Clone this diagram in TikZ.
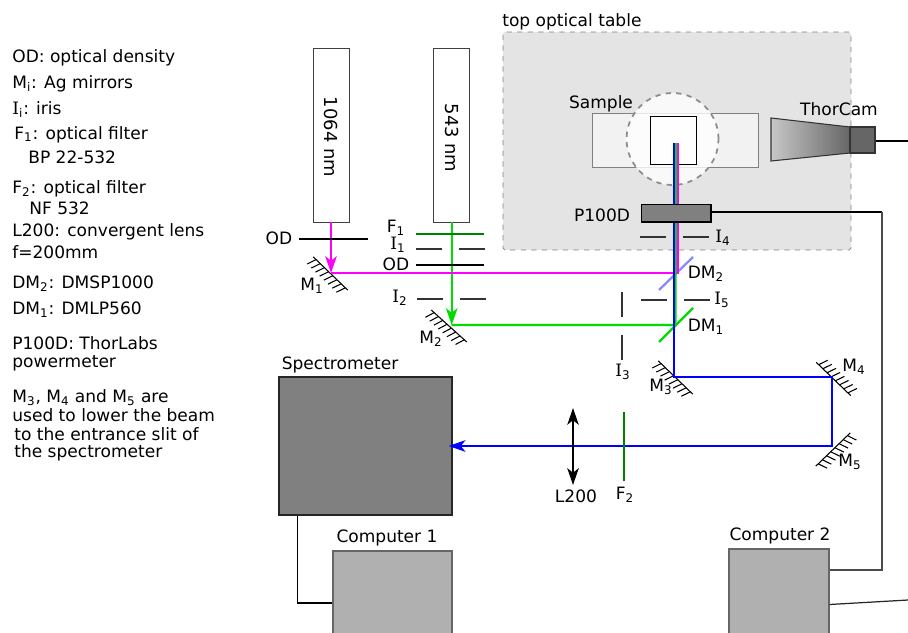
\documentclass[tikz,border=0pt]{standalone}
\usepackage{fontspec}
\setmainfont{DejaVu Sans}
\newfontfamily\slabfont{DejaVu Serif}
\usetikzlibrary{arrows.meta,calc}
\definecolor{beammag}{RGB}{255,0,255}
\definecolor{beamgreen}{RGB}{0,220,0}
\definecolor{beamblue}{RGB}{0,0,255}
\definecolor{filtgreen}{RGB}{0,128,0}
\definecolor{dmblue}{RGB}{136,136,255}
\definecolor{tablegray}{RGB}{228,228,228}
\newcommand{\irisI}{{\slabfont I}}

\begin{document}
\begin{tikzpicture}[
  x=0.02cm, y=-0.02cm,
  every node/.style={font=\fontsize{9.7}{11}\selectfont, inner sep=0pt},
  lbl/.style ={anchor=center},
  leg/.style ={anchor=west, align=left, yshift=-0.03cm},
  laser/.style={draw=black!75, fill=white, minimum width=0.72cm, minimum height=3.48cm},
  lasertxt/.style={rotate=-90, font=\fontsize{10.2}{11}\selectfont},
  instr/.style={draw=black!85, line width=0.7pt, fill=black!50},
  comp/.style ={draw=black!60, line width=0.7pt, fill=black!31},
  filt/.style ={line width=1pt, color=filtgreen},
  od/.style   ={line width=1.1pt, black},
  iris/.style ={line width=0.6pt, black!80},
  beam/.style ={line width=1.3pt},
  wire/.style ={line width=0.6pt, black},
  tip/.style  ={-{Stealth[length=9.5pt,width=6.5pt,inset=2.5pt]}},
  mirror/.pic={
    \draw[line width=0.6pt] (-24,0) -- (24,0);
    \foreach \i in {-20,-14.2,...,22}
      \draw[line width=0.6pt] (\i,0) -- ++(-3.4,9.4);
  }
]
  \path[use as bounding box, clip] (0,0) rectangle (908,632);

  %% legend
  \node[leg] (lgod)  at (12,56)  {OD: optical density};
  \node[leg] (lgm)   at (12,82)  {M\textsubscript{i}: Ag mirrors};
  \node[leg] (lgi)   at (12,108) {\irisI\textsubscript{i}: iris};
  \node[leg] (lgfa)  at (14,133) {F\textsubscript{1}: optical filter};
  \node[leg] (lgfb)  at (28,156) {BP 22-532};
  \node[leg] (lgfc)  at (12,187) {F\textsubscript{2}: optical filter};
  \node[leg] (lgfd)  at (29,207) {NF 532};
  \node[leg] (lgla)  at (12,230) {L200: convergent lens};
  \node[leg] (lglb)  at (12,251) {f=200mm};
  \node[leg] (lgdb)  at (12,282) {DM\textsubscript{2}: DMSP1000};
  \node[leg] (lgda)  at (12,308) {DM\textsubscript{1}: DMLP560};
  \node[leg] (lgpa)  at (12,342) {P100D: ThorLabs};
  \node[leg] (lgpb)  at (12,362) {powermeter};
  \node[leg] (lgma)  at (12,396) {M\textsubscript{3}, M\textsubscript{4} and M\textsubscript{5} are};
  \node[leg] (lgmb)  at (12,414) {used to lower the beam};
  \node[leg] (lgmc)  at (14,433) {to the entrance slit of};
  \node[leg] (lgmd)  at (14,451) {the spectrometer};

  %% top optical table
  \node[draw=black!50, dashed, fill=tablegray, rounded corners=1pt,
        minimum width=6.96cm, minimum height=4.36cm] (table) at (677,141) {};
  \node[leg] (tabletxt) at (502,20) {top optical table};

  %% sample
  \node[draw=black!50, fill=black!5, minimum width=3.32cm, minimum height=1.08cm] (holder) at (675,140) {};
  \node[circle, draw=black!45, dashed, line width=1pt, fill=white, fill opacity=0.8,
        minimum size=1.84cm] (spot) at (672.5,139) {};
  \node[draw=black, line width=0.6pt, fill=white, fill opacity=0.8,
        minimum width=0.92cm, minimum height=0.96cm] (sample) at (673.5,140.5) {};
  \node[lbl] (sampletxt) at (601,104) {Sample};

  %% camera
  \coordinate (cama) at (771,118);
  \coordinate (camb) at (850,127);
  \coordinate (camc) at (850,153);
  \coordinate (camd) at (771,161);
  \draw[black!80, line width=0.6pt, left color=black!22, right color=black!60]
    (cama) -- (camb) -- (camc) -- (camd) -- cycle;
  \node[draw=black!80, line width=0.6pt, fill=black!60, minimum width=0.5cm, minimum height=0.52cm] (cam) at (862.5,140) {};
  \node[lbl] (camtxt) at (839,109) {ThorCam};

  %% lasers
  \node[laser] (ir)  at (331,135) {};
  \node[laser] (grn) at (451.7,135) {};
  \node[lasertxt] (irtxt)  at (331,137) {1064 nm};
  \node[lasertxt] (grntxt) at (451.7,138) {543 nm};

  %% instruments
  \node[instr, minimum width=3.46cm, minimum height=2.76cm] (spec) at (365.5,446) {};
  \node[comp, minimum width=2.38cm, minimum height=1.78cm] (compa) at (392.5,595.5) {};
  \node[comp, minimum width=2.0cm, minimum height=1.82cm]  (compb) at (779,594.5) {};
  \node[lbl] (spectxt)  at (340,364.5) {Spectrometer};
  \node[lbl] (compatxt) at (387,538) {Computer 1};
  \node[lbl] (compbtxt) at (780,535.5) {Computer 2};

  %% mirrors
  \pic[rotate=-44] at (330.5,273.5) {mirror};
  \pic[rotate=-42] at (449,326) {mirror};
  \pic[rotate=-44] at (675.5,377.5) {mirror};
  \pic[rotate=136] at (833.5,379) {mirror};
  \pic[yscale=-1, rotate=136] at (833,449.5) {mirror};

  \coordinate (pone)   at (331,273);
  \coordinate (ptwo)   at (451.7,325);
  \coordinate (pthree) at (674,377);
  \coordinate (pfour)  at (832,377);
  \coordinate (pfive)  at (832,446);
  \coordinate (dmone)  at (675.5,325);
  \coordinate (dmtwo)  at (677.5,273);
  \coordinate (endm)   at (677.5,143);
  \coordinate (endg)   at (675.7,143);
  \coordinate (endb)   at (674,143);

  %% dichroic mirrors
  \coordinate (dba) at (659,290);
  \coordinate (dbb) at (693,257);
  \coordinate (daa) at (659,342);
  \coordinate (dab) at (693,308);
  \draw[line width=1.3pt, dmblue] (dba) -- (dbb);
  \draw[line width=1.3pt, beamgreen] (daa) -- (dab);

  %% beams
  \draw[beam, beammag, tip] (ir.south) -- (pone);
  \draw[beam, beamgreen, tip] (grn.south) -- (ptwo);
  \draw[beam, beammag]   (pone) -- (dmtwo) -- (endm);
  \draw[beam, beamgreen] (ptwo) -- (dmone) -- (endg);
  \draw[beam, beamblue]  (endb) -- (pthree) -- (pfour) -- (pfive) -- (pfive -| spec.east);
  \draw[beam, beamblue, tip] (pfive) -- ($(pfive -| spec.east)+(-4,0)$);

  %% filters, OD and irises
  \coordinate (fta) at (416,234);
  \coordinate (ftb) at (484,234);
  \draw[filt] (fta) -- (ftb);
  \draw[od] (299,239) -- (368,239);
  \draw[od] (416,265) -- (484,265);
  \foreach \xa/\yy in {416/249, 417/299, 640/237, 641/300}
    \draw[iris] (\xa,\yy) -- ++(26,0) ++(17,0) -- ++(26,0);
  \draw[iris] (622,292) -- (622,317) (622,335) -- (622,360);
  \draw[filt] (624,412) -- (624,481);
  \draw[line width=1pt, black, {Stealth[length=9.5pt,width=6.5pt,inset=2.5pt]}-{Stealth[length=9.5pt,width=6.5pt,inset=2.5pt]}]
    (573,408) -- (573,485);

  %% powermeter and wires
  \node[draw=black, line width=0.7pt, fill=black!50, minimum width=1.39cm, minimum height=0.35cm] (power) at (676.25,213.25) {};
  \coordinate (wra) at (882,212);
  \coordinate (wrb) at (882,570);
  \coordinate (wrc) at (908,141);
  \coordinate (wrd) at (908,600);
  \draw[wire] (power.east |- wra) -- (wra);
  \draw[wire, black!70] (wra) -- (wrb) -- (wrb -| compb.east);
  \draw[wire] (cam.east |- wrc) -- (wrc);
  \draw[wire, black!85, line width=0.7pt] ($(compb.east)+(0,10)$) -- (wrd);
  \draw[wire] ($(spec.south west)+(19,0)$) |- ($(compa.west)+(0,7.5)$);

  %% labels
  \node[lbl] (odatxt) at (279,238) {OD};
  \node[lbl] (mone)   at (312,286) {M\textsubscript{1}};
  \node[lbl] (mtwo)   at (431,339) {M\textsubscript{2}};
  \node[lbl] (mthree) at (661,387) {M\textsubscript{3}};
  \node[lbl] (mfour)  at (854,367) {M\textsubscript{4}};
  \node[lbl] (mfive)  at (850,462) {M\textsubscript{5}};
  \node[lbl] (fone)   at (396,228) {F\textsubscript{1}};
  \node[lbl] (ione)   at (398,245) {\irisI\textsubscript{1}};
  \node[lbl] (odbtxt) at (396,264) {OD};
  \node[lbl] (itwo)   at (400,298) {\irisI\textsubscript{2}};
  \node[lbl] (ithree) at (623,372) {\irisI\textsubscript{3}};
  \node[lbl] (ifour)  at (723,238) {\irisI\textsubscript{4}};
  \node[lbl] (ifive)  at (722,300) {\irisI\textsubscript{5}};
  \node[lbl] (dbtxt)  at (706,274) {DM\textsubscript{2}};
  \node[lbl] (datxt)  at (706,327) {DM\textsubscript{1}};
  \node[lbl] (powertxt) at (602,215) {P100D};
  \node[lbl] (lenstxt) at (576,496) {L200};
  \node[lbl] (ftwo)   at (625,495) {F\textsubscript{2}};
\end{tikzpicture}
\end{document}
